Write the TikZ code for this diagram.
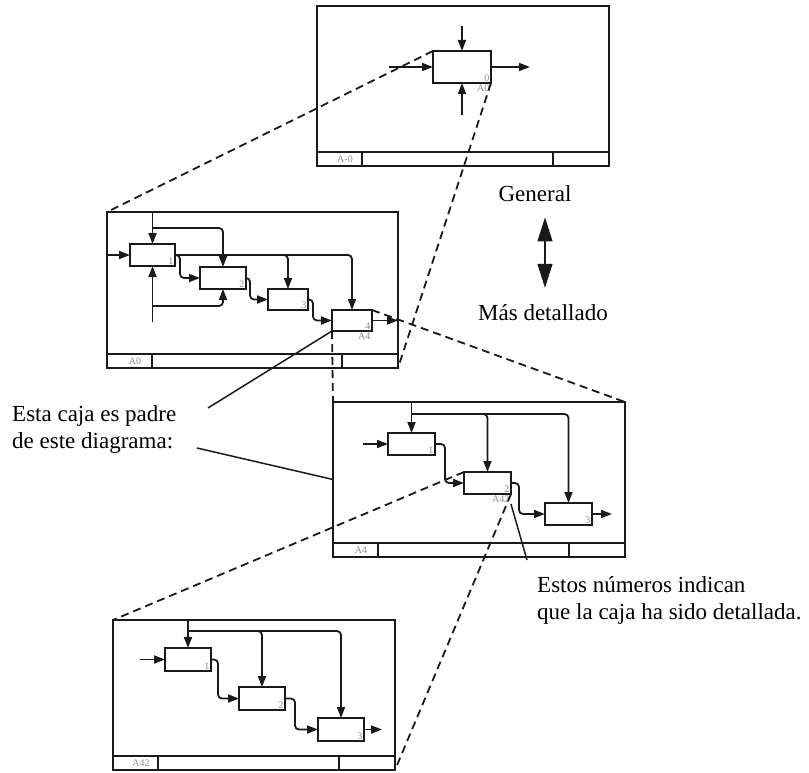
\documentclass[tikz,border=0pt]{standalone}
\usepackage{fontspec}
\setmainfont{Liberation Serif}
\usepackage{tikz}
\usetikzlibrary{arrows.meta, positioning, calc}
\definecolor{ink}{HTML}{1A1A1A}
\definecolor{faint}{HTML}{8C8C8C}

\begin{document}
\begin{tikzpicture}[x=1pt, y=-1pt, >={Triangle[length=11pt,width=8pt]},
    boxno/.style={label={[numlab, anchor=south east]south east:#1}}]
        \tikzstyle{frame} = [rectangle, draw=ink, line width=2pt, inner sep=0pt, outer sep=0pt]
        \tikzstyle{act} = [rectangle, draw=ink, line width=2pt, minimum width=46pt, minimum height=22pt, inner sep=0pt, outer sep=0pt]
        \tikzstyle{numlab} = [font=\fontsize{10}{10}\selectfont, text=faint, inner sep=1.5pt]
        \tikzstyle{arr} = [->, draw=ink, line width=1.8pt, rounded corners=4pt]
        \tikzstyle{zoomline} = [draw=ink, line width=1.8pt, dash pattern=on 8pt off 5pt]
        \tikzstyle{callout} = [draw=ink, line width=1.5pt]
        \tikzstyle{note} = [font=\fontsize{23}{27}\selectfont, inner sep=0pt, align=left]

        \useasboundingbox (0,0) rectangle (809,773);

        % frames
        \node [frame, minimum width=292pt, minimum height=160pt] (f0) at (463,86) {};
        \node [frame, minimum width=291pt, minimum height=156pt] (f1) at (252.5,290) {};
        \node [frame, minimum width=292pt, minimum height=155pt] (f2) at (479,479.5) {};
        \node [frame, minimum width=282pt, minimum height=150pt] (f3) at (254,695) {};
        \foreach \f/\t in {f0/A-0, f1/A0, f2/A4, f3/A42} {
            \draw [draw=ink, line width=2pt] ($(\f.south west)+(0,-14)$) -- ($(\f.south east)+(0,-14)$);
            \draw [draw=ink, line width=2pt] ($(\f.south west)+(45,0)$) -- ++(0,-14);
            \draw [draw=ink, line width=2pt] ($(\f.south east)+(-56,0)$) -- ++(0,-14);
            \node [numlab] (\f-id) at ($(\f.south west)+(28,-7)$) {\t};
        }

        % A-0
        \node [act, minimum width=58pt, minimum height=32pt, boxno=0, label={[numlab, name=a0ref, anchor=north east]south east:A0}] (a0) at (462,67) {};
        \draw [arr] ([yshift=25pt]a0.north) -- (a0.north);
        \draw [arr] ([yshift=-32pt]a0.south) -- (a0.south);
        \draw [arr] ([xshift=-44pt]a0.west) -- (a0.west);
        \draw [arr] (a0.east) -- ([xshift=39pt]a0.east);

        % A0
        \node [act, minimum width=45pt, boxno=1] (b1) at (152.5,255) {};
        \node [act, boxno=2, below right=1pt and 25pt of b1] (b2) {};
        \node [act, minimum width=40pt, minimum height=21pt, boxno=3, below right=0pt and 22pt of b2] (b3) {};
        \node [act, minimum width=40pt, minimum height=21pt, boxno=4, label={[numlab, name=b4ref, anchor=north east]south east:A4}, below right=0pt and 24pt of b3] (b4) {};
        \draw [arr] (f1.west |- b1.west) -- (b1.west);
        \draw [arr] (f1.north -| b1.north) -- (b1.north);
        \draw [arr] ($(f1.north -| b1.north)+(0,16)$) -| (b2.north);
        \draw [arr] (b1.east) -| (b4.north);
        \draw [arr] (b1.east) -| (b3.north);
        \draw [arr] (b1.east) -- ++(5,0) |- (b2.west);
        \draw [arr] (b2.east) -- ++(4,0) |- (b3.west);
        \draw [arr] (b3.east) -- ++(5,0) |- (b4.west);
        \draw [arr] (b4.east) -- (b4.east -| f1.east);
        \draw [arr] ($(b1.south)+(0,56)$) -- (b1.south);
        \draw [arr] ($(b1.south)+(0,40)$) -| (b2.south);

        % A4
        \node [act, minimum width=47pt, boxno=1] (c1) at (411.5,444) {};
        \node [act, minimum width=47pt, boxno=2, label={[numlab, name=c2ref, anchor=north east]south east:A42}, below right=17pt and 29pt of c1] (c2) {};
        \node [act, minimum width=47pt, boxno=3, below right=9pt and 34pt of c2] (c3) {};
        \draw [arr] ([xshift=-25pt]c1.west) -- (c1.west);
        \draw [arr] (f2.north -| c1.north) -- (c1.north);
        \draw [arr] ($(f2.north -| c1.north)+(0,12)$) -| (c3.north);
        \draw [arr] ($(f2.north -| c1.north)+(0,12)$) -| (c2.north);
        \draw [arr] (c1.east) -- ++(10,0) |- (c2.west);
        \draw [arr] (c2.east) -- ++(8,0) |- (c3.west);
        \draw [arr] (c3.east) -- ([xshift=20pt]c3.east);

        % A42
        \node [act, minimum height=23pt, boxno=1] (d1) at (188,659.5) {};
        \node [act, minimum height=23pt, boxno=2, below right=16pt and 28pt of d1] (d2) {};
        \node [act, minimum height=23pt, boxno=3, below right=8pt and 33pt of d2] (d3) {};
        \draw [arr] ([xshift=-25pt]d1.west) -- (d1.west);
        \draw [arr] (f3.north -| d1.north) -- (d1.north);
        \draw [arr] ($(f3.north -| d1.north)+(0,11)$) -| (d3.north);
        \draw [arr] ($(f3.north -| d1.north)+(0,11)$) -| (d2.north);
        \draw [arr] (d1.east) -- ++(7,0) |- (d2.west);
        \draw [arr] (d2.east) -- ++(10,0) |- (d3.west);
        \draw [arr] (d3.east) -- ([xshift=18pt]d3.east);

        % zoom lines
        \draw [zoomline] (a0.north west) -- (f1.north west);
        \draw [zoomline] (a0.south east) -- (f1.south east);
        \draw [zoomline] (b4.south west) -- (f2.north west);
        \draw [zoomline] (b4.north east) -- (f2.north east);
        \draw [zoomline] (c2.north west) -- (f3.north west);
        \draw [zoomline] (c2.south east) -- (f3.south east);

        % notes
        \node [note, anchor=base] (gen) at (535,201) {General};
        \node [note, anchor=base] (mas) at (543,320) {Más detallado};
        \node [note, anchor=north west] (padre) at (12,405) {Esta caja es padre\\de este diagrama:};
        \node [note, anchor=north west] (numeros) at (537,576) {Estos números indican\\que la caja ha sido detallada.};
        \draw [draw=ink, line width=1.2pt, {Triangle[length=24pt,width=15pt]}-{Triangle[length=24pt,width=15pt]}] ($(gen.south -| mas)+(2,16)$) -- ($(mas.north)+(2,-16)$);

        \coordinate (padreA) at (208,408);
        \coordinate (padreB) at (197,448);
        \coordinate (numA) at (527,560);
        \path [callout] (padreA) -- (b4.south west);
        \path [callout] (padreB) -- (f2.west);
        \path [callout] (numA) -- (c2ref.south east);
    \end{tikzpicture}
\end{document}
